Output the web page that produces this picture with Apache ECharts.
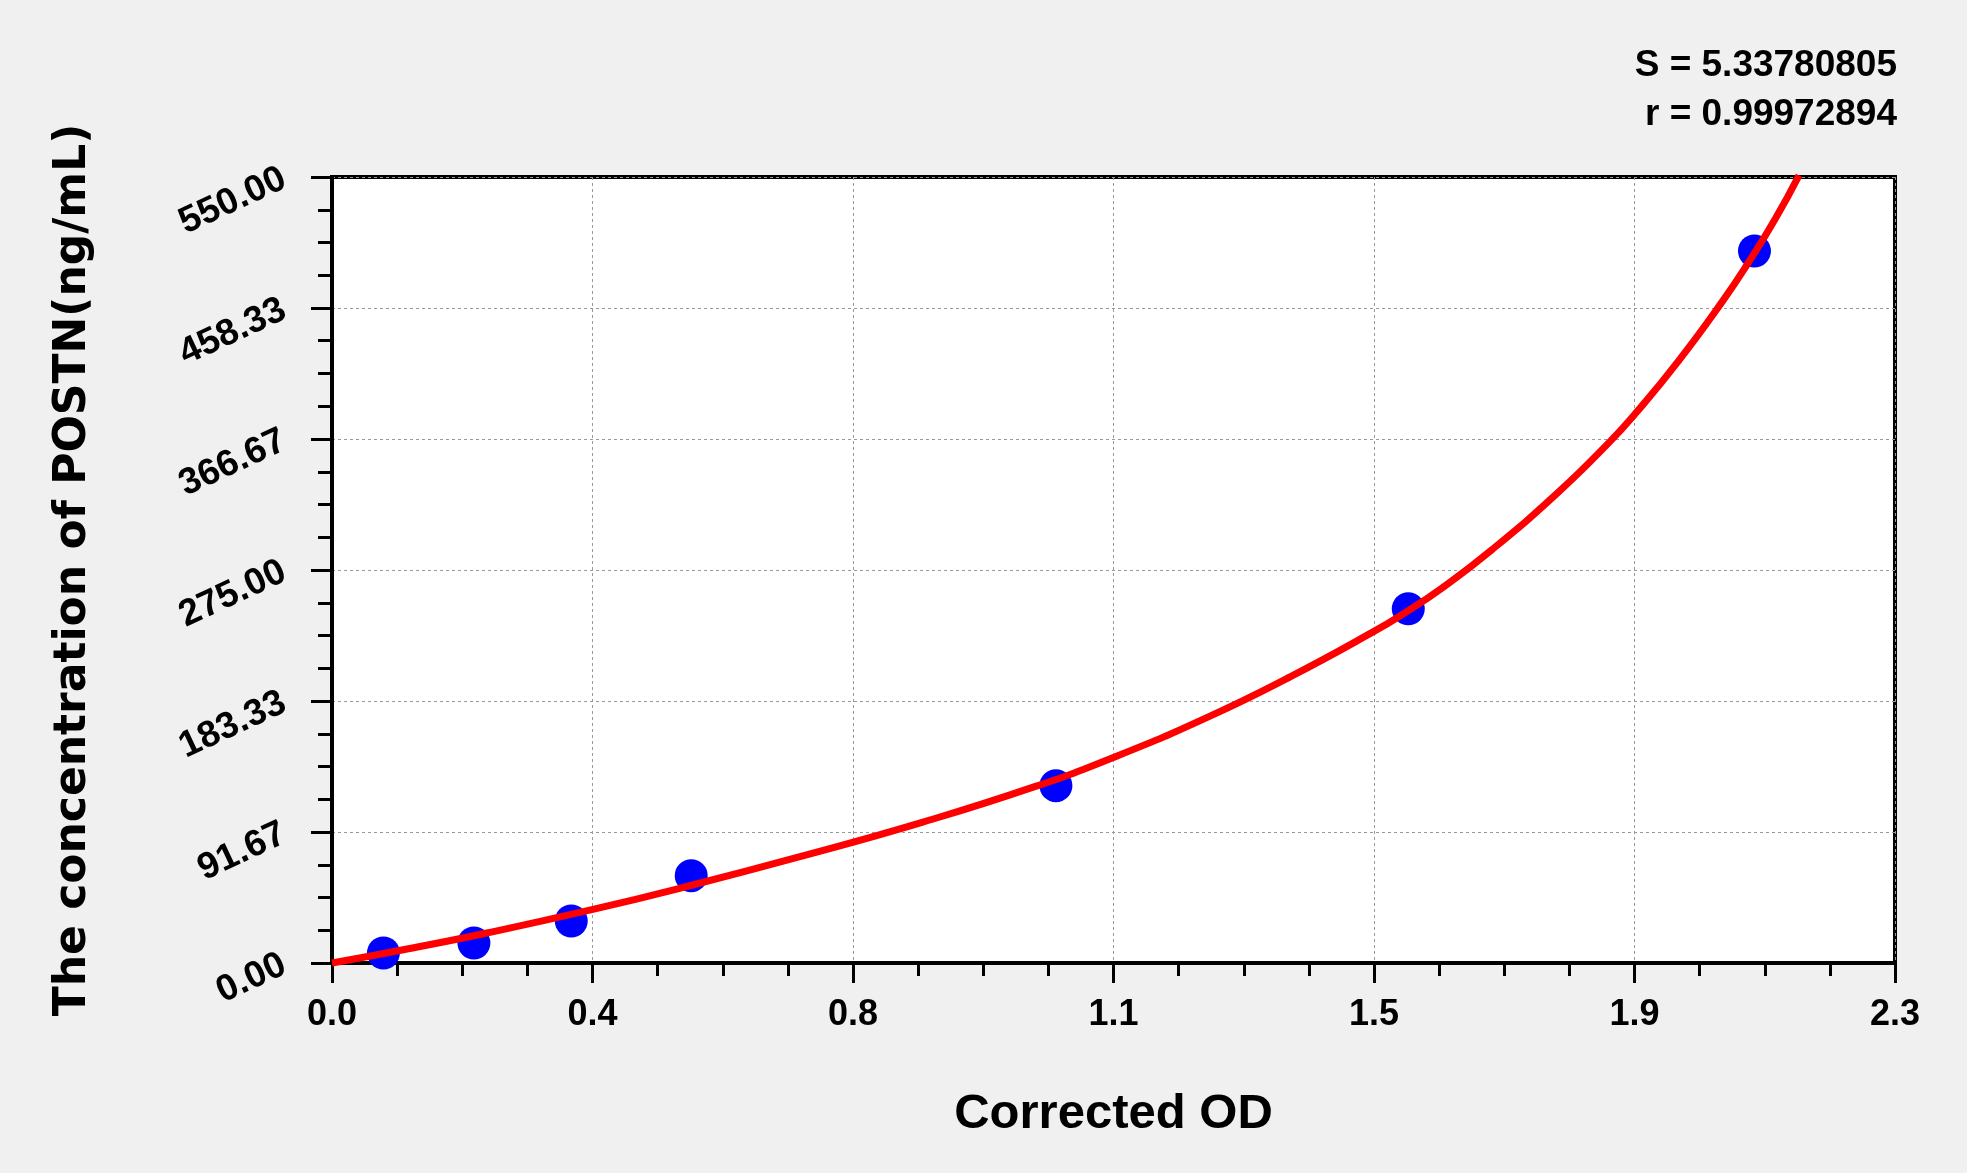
<!DOCTYPE html>
<html>
<head>
<meta charset="utf-8">
<title>POSTN standard curve</title>
<script src="https://cdn.jsdelivr.net/npm/echarts@6/dist/echarts.min.js"></script>
<style>
  html, body { margin: 0; padding: 0; background: #f0f0f0; }
  #chart { width: 1967px; height: 1173px; }
</style>
</head>
<body>
<div id="chart"></div>
<script>
// standards (corrected OD vs concentration)
const odValues = [0.075, 0.207, 0.349, 0.524, 1.056, 1.570, 2.075]
const concValues = [7.0, 14.0, 29.4, 61.1, 124.1, 247.9, 498.2]

// fitted curve
const curveOd = [0, 0.104, 0.226, 0.379, 0.518, 0.684, 0.862, 1.024, 1.142, 1.280, 1.399, 1.518, 1.565, 1.618, 1.692, 1.789, 1.862, 1.901, 1.964, 2.028, 2.066, 2.105, 2.140]
const curveConc = [0, 9.3, 21.0, 37.3, 53.6, 74.6, 98.6, 123.2, 144.2, 172.6, 200.6, 231.5, 245.0, 262.0, 289.2, 329.5, 363.8, 384.3, 421.2, 462.8, 490.0, 520.4, 551.2]

const fitText = ['S = 5.33780805', 'r = 0.99972894']

const sans = '"Liberation Sans", Arial, sans-serif'
const black = '#000'

const chart = echarts.init(document.getElementById('chart'))

const fitStyle = {
  fontFamily: sans,
  fontWeight: 'bold',
  fontSize: 37,
  color: black
}

const option = {
  backgroundColor: '#f0f0f0',
  animation: false,
  title: [
    { text: fitText[0], right: 70, top: 47, padding: 0, textStyle: fitStyle },
    { text: fitText[1], right: 70, top: 96, padding: 0, textStyle: fitStyle }
  ],
  grid: {
    left: 332,
    right: 72,
    top: 177,
    bottom: 210,
    show: true,
    backgroundColor: '#fff',
    borderColor: black,
    borderWidth: 4
  },
  xAxis: {
    type: 'value',
    min: 0,
    max: 2.28,
    interval: 0.38,
    name: 'Corrected OD',
    nameLocation: 'middle',
    nameGap: 127,
    nameTextStyle: { fontFamily: sans, fontWeight: 'bold', fontSize: 49, color: black },
    axisLine: { show: true, lineStyle: { color: black, width: 4 } },
    axisTick: { show: true, length: 20, lineStyle: { color: black, width: 3 } },
    minorTick: { show: true, splitNumber: 4, length: 13, lineStyle: { color: black, width: 3 } },
    axisLabel: {
      margin: 34,
      fontFamily: sans,
      fontWeight: 'bold',
      fontSize: 36,
      color: black,
      formatter: v => v.toFixed(1)
    },
    splitLine: { show: true, lineStyle: { color: '#999', width: 1, type: [3, 3] } }
  },
  yAxis: {
    type: 'value',
    min: 0,
    max: 550,
    interval: 550 / 6,
    name: 'The concentration of POSTN(ng/mL)',
    nameLocation: 'middle',
    nameGap: 236,
    nameTextStyle: { fontFamily: 'Verdana, "DejaVu Sans", sans-serif', fontWeight: 'bold', fontSize: 44, color: black },
    axisLine: { show: true, lineStyle: { color: black, width: 4 } },
    axisTick: { show: true, length: 21, lineStyle: { color: black, width: 3 } },
    minorTick: { show: true, splitNumber: 4, length: 14, lineStyle: { color: black, width: 3 } },
    axisLabel: {
      margin: 48,
      rotate: 25,
      fontFamily: sans,
      fontWeight: 'bold',
      fontSize: 37,
      color: black,
      formatter: v => v.toFixed(2)
    },
    splitLine: { show: true, lineStyle: { color: '#999', width: 1, type: [3, 3] } }
  },
  series: [
    {
      type: 'scatter',
      symbol: 'circle',
      symbolSize: 33,
      itemStyle: { color: '#0000ff', opacity: 1 },
      data: odValues.map((x, i) => [x, concValues[i]]),
      z: 2
    },
    {
      type: 'line',
      smooth: 0.5,
      showSymbol: false,
      clip: false,
      lineStyle: { color: '#ff0000', width: 7 },
      data: curveOd.map((x, i) => [x, curveConc[i]]),
      z: 3
    }
  ]
}

chart.setOption(option)
</script>
</body>
</html>
